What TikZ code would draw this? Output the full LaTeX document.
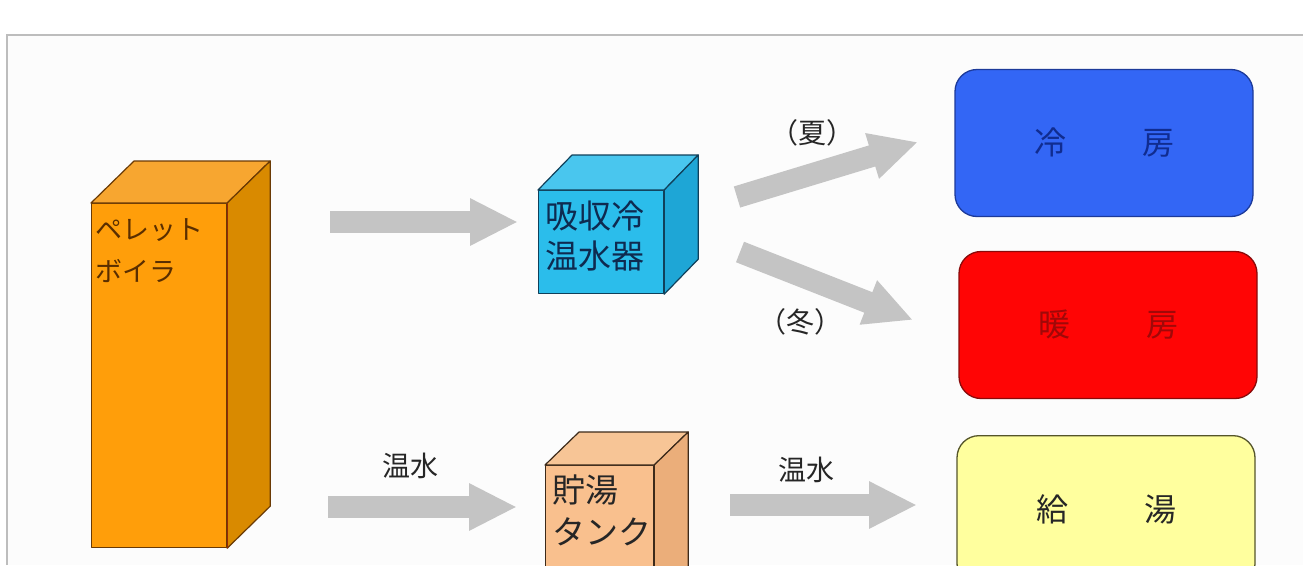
\documentclass[tikz,border=0pt]{standalone}
\usepackage{fontspec}
\setmainfont{Noto Sans CJK JP}
\usetikzlibrary{arrows.meta}
\definecolor{frameg}{HTML}{BDBDBD}
\definecolor{arrowg}{HTML}{C4C4C4}
\definecolor{orfront}{HTML}{FF9E0A}
\definecolor{ortop}{HTML}{F7A630}
\definecolor{orside}{HTML}{D98A00}
\definecolor{oredge}{HTML}{6A3A05}
\definecolor{ortext}{HTML}{5A2E00}
\definecolor{cyfront}{HTML}{2BBDEB}
\definecolor{cytop}{HTML}{49C6EE}
\definecolor{cyside}{HTML}{1EA6D6}
\definecolor{cyedge}{HTML}{10405A}
\definecolor{cytext}{HTML}{0E2A50}
\definecolor{pkfront}{HTML}{F9C08E}
\definecolor{pktop}{HTML}{F7C596}
\definecolor{pkside}{HTML}{EBAE7A}
\definecolor{pkedge}{HTML}{3C2A1A}
\definecolor{bluefill}{HTML}{3366F5}
\definecolor{blueedge}{HTML}{1C3A9A}
\definecolor{bluetext}{HTML}{102C90}
\definecolor{redfill}{HTML}{FF0505}
\definecolor{rededge}{HTML}{8A0A0A}
\definecolor{redtext}{HTML}{A00808}
\definecolor{yelfill}{HTML}{FFFF9E}
\definecolor{yeledge}{HTML}{55552A}
\tikzset{
  blockarrow/.style={draw=arrowg, line width=22pt, line cap=butt,
    -{Triangle[width=44pt,length=48pt]}},
  face/.style={draw, line width=1.2pt, inner sep=0pt, line join=round},
  roomnode/.style={draw, line width=1.3pt, rounded corners=22pt, inner sep=0pt,
    minimum width=298pt, minimum height=147pt, font=\fontsize{32}{32}\selectfont},
  lbl/.style={inner sep=0pt, font=\fontsize{28}{28}\selectfont, text=black!85}
}
\begin{document}
\begin{tikzpicture}[x=1pt,y=-1pt]
\useasboundingbox (0,0) rectangle (1303,565);
\fill[white] (0,0) rectangle (1303,565);
\fill[black!1] (7,35) rectangle (1303,565);
\draw[frameg, line width=1.5pt] (7,565) -- (7,35) -- (1303,35);

% pellet boiler
\node[face, draw=oredge, fill=orfront, anchor=north west, minimum width=135pt, minimum height=344pt] (boiler) at (91,203) {};
\filldraw[face, draw=oredge, fill=ortop] (boiler.north west) -- ++(43,-42) -- ([shift={(43,-42)}]boiler.north east) -- (boiler.north east) -- cycle;
\filldraw[face, draw=oredge, fill=orside] (boiler.north east) -- ++(43,-42) -- ([shift={(43,-42)}]boiler.south east) -- (boiler.south east) -- cycle;
\draw[line width=1.4pt, draw=oredge!70!red] (boiler.north east) -- (boiler.south east);
\node[anchor=west, align=left, inner sep=0pt, text=ortext, font=\fontsize{27}{42}\selectfont] (boilertxt) at (95,251) {ペレット\\ボイラ};

% absorption chiller
\node[face, draw=cyedge, fill=cyfront, anchor=north west, minimum width=125pt, minimum height=103pt] (chiller) at (538,190) {};
\filldraw[face, draw=cyedge, fill=cytop] (chiller.north west) -- ++(34,-35) -- ([shift={(34,-35)}]chiller.north east) -- (chiller.north east) -- cycle;
\filldraw[face, draw=cyedge, fill=cyside] (chiller.north east) -- ++(34,-35) -- ([shift={(34,-35)}]chiller.south east) -- (chiller.south east) -- cycle;
\node[anchor=west, align=left, inner sep=0pt, text=cytext, font=\fontsize{33}{40}\selectfont] (chillertxt) at (545,236) {吸収冷\\温水器};

% hot water tank
\node[face, draw=pkedge, fill=pkfront, anchor=north west, minimum width=108pt, minimum height=140pt] (tank) at (545,465) {};
\filldraw[face, draw=pkedge, fill=pktop] (tank.north west) -- ++(34,-33) -- ([shift={(34,-33)}]tank.north east) -- (tank.north east) -- cycle;
\filldraw[face, draw=pkedge, fill=pkside] (tank.north east) -- ++(34,-33) -- ([shift={(34,-33)}]tank.south east) -- (tank.south east) -- cycle;
\node[anchor=west, align=left, inner sep=0pt, text=black!85, font=\fontsize{33}{42}\selectfont] (tanktxt) at (552,510) {貯湯\\タンク};

% rooms
\node[roomnode, draw=blueedge, fill=bluefill, text=bluetext] (cool) at (1104,143) {冷\hspace{76pt}房};
\node[roomnode, draw=rededge, fill=redfill, text=redtext] (heat) at (1108,325) {暖\hspace{76pt}房};
\node[roomnode, draw=yeledge, fill=yelfill, text=black!85, minimum height=150pt, anchor=north] (hotw) at (1106,435) {};
\node[inner sep=0pt, font=\fontsize{32}{32}\selectfont, text=black!85] (hotwtxt) at (1106,509) {給\hspace{76pt}湯};

% arrows
\coordinate (a1s) at (330,222); \coordinate (a1e) at (518,222);
\draw[blockarrow] (a1s) -- (a1e);
\coordinate (a2s) at (737,197); \coordinate (a2e) at (918,142);
\draw[blockarrow] (a2s) -- (a2e);
\coordinate (a3s) at (740,252); \coordinate (a3e) at (913,320);
\draw[blockarrow] (a3s) -- (a3e);
\coordinate (a4s) at (328,507); \coordinate (a4e) at (517,507);
\draw[blockarrow] (a4s) -- (a4e);
\coordinate (a5s) at (730,505); \coordinate (a5e) at (917,505);
\draw[blockarrow] (a5s) -- (a5e);

% labels
\node[lbl] (summer) at (812,133) {（夏）};
\node[lbl] (winter) at (800,322) {（冬）};
\node[lbl] (hw1) at (410,466) {温水};
\node[lbl] (hw2) at (806,470) {温水};
\end{tikzpicture}
\end{document}
